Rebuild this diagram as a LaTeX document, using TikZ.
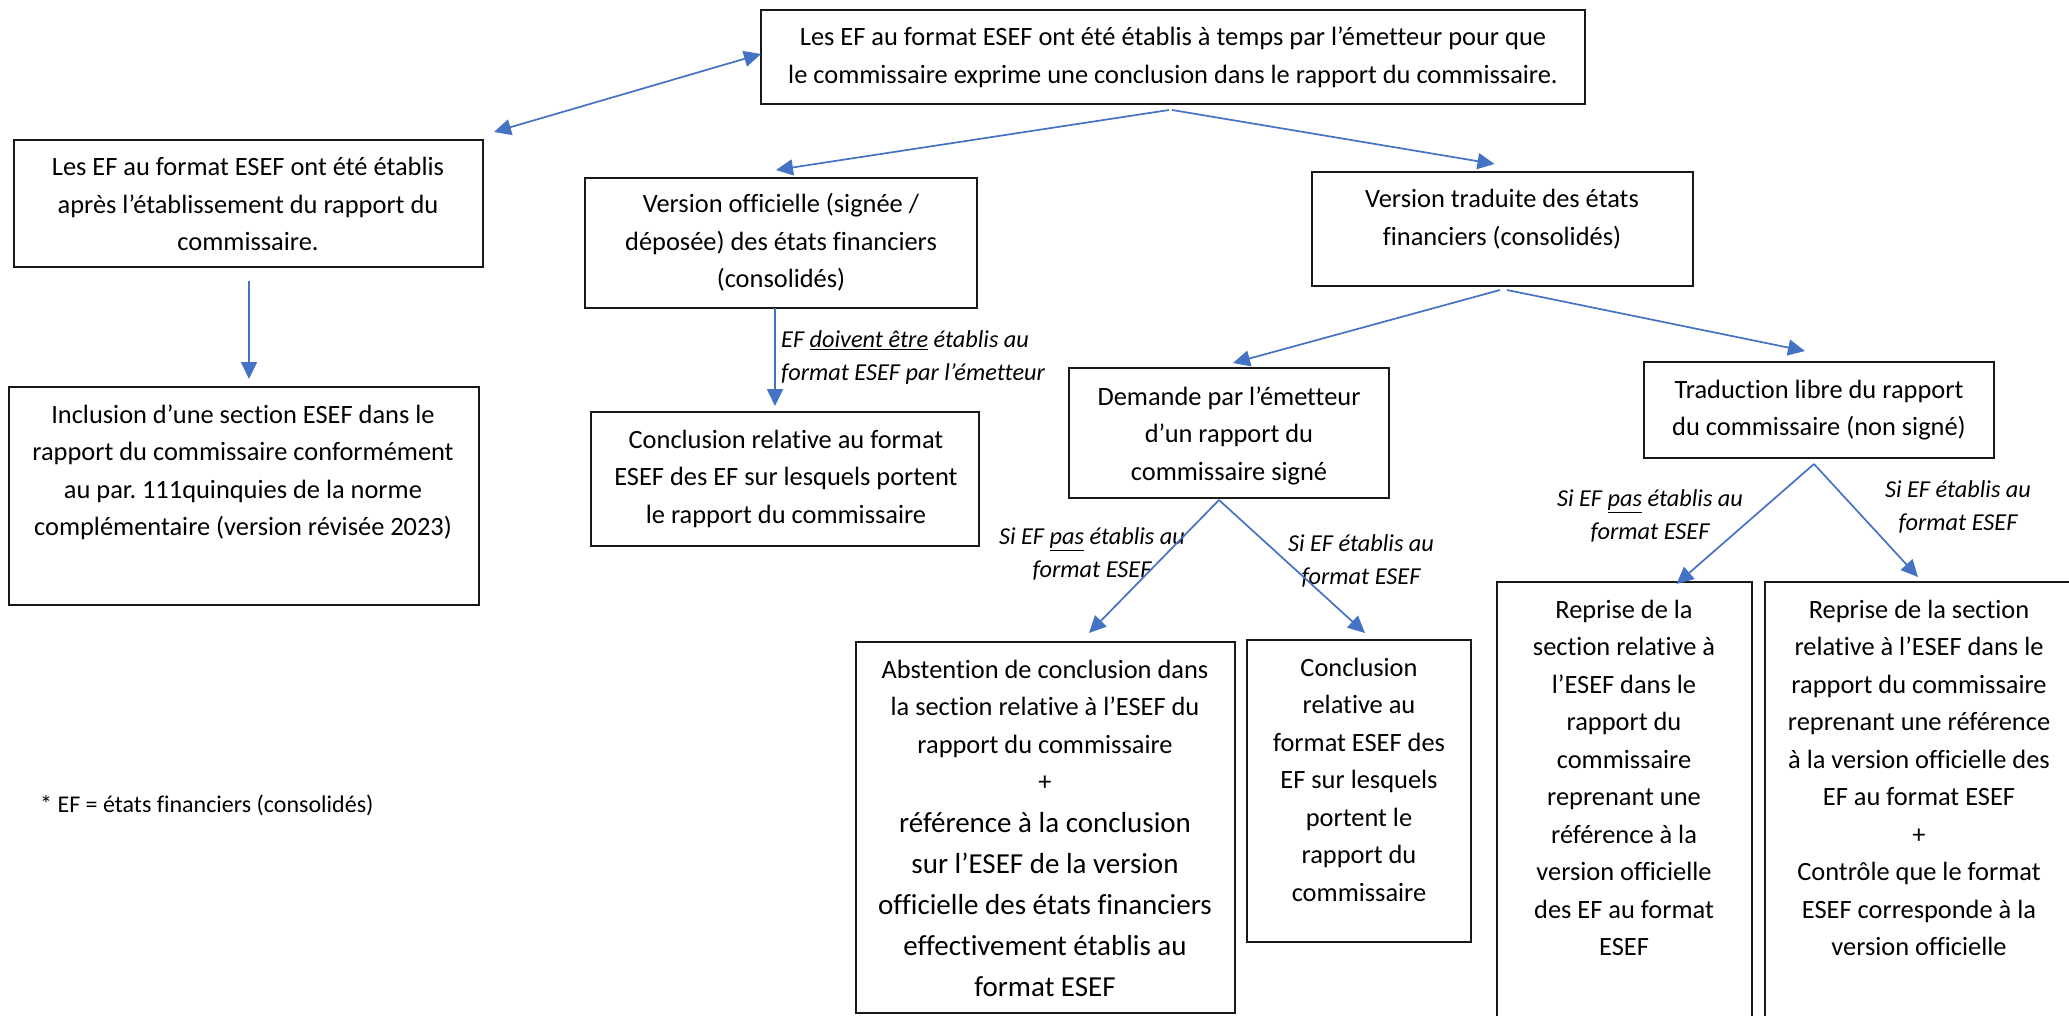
\documentclass[tikz,border=0pt]{standalone}
\usepackage{fontspec}
\setmainfont{Carlito}[Ligatures=CommonOff]
\frenchspacing
\usetikzlibrary{arrows.meta,calc}
\definecolor{arr}{RGB}{68,114,196}
\definecolor{bord}{RGB}{25,25,25}
\begin{document}
\begin{tikzpicture}[x=1pt,y=-1pt,
  box/.style={draw=bord,line width=1.8pt,rectangle,inner sep=0pt,outer sep=0pt,anchor=north west},
  txt/.style={align=center,inner sep=0pt,anchor=base,font=\fontsize{26.4}{37.5}\selectfont},
  bigtxt/.style={align=center,inner sep=0pt,anchor=base,font=\fontsize{29}{41}\selectfont},
  lbl/.style={align=center,inner sep=0pt,anchor=base,font=\fontsize{24.3}{32.5}\selectfont\itshape},
  note/.style={inner sep=0pt,anchor=base west,font=\fontsize{24}{30}\selectfont},
  con/.style={draw=arr,line width=1.7pt,-{Triangle[length=17pt,width=16pt]}},
  dcon/.style={draw=arr,line width=1.7pt,{Triangle[length=17pt,width=16pt]}-{Triangle[length=17pt,width=16pt]}},
]
\useasboundingbox (0,0) rectangle (2069,1016);
\clip (0,0) rectangle (2069,1016);

% boxes
\node[box,minimum width=824pt,minimum height=94pt]  (top) at (761,10) {};
\node[box,minimum width=469pt,minimum height=127pt] (A) at (14,140) {};
\node[box,minimum width=470pt,minimum height=218pt] (B) at (9,387) {};
\node[box,minimum width=392pt,minimum height=130pt] (C) at (585,178) {};
\node[box,minimum width=388pt,minimum height=134pt] (D) at (591,412) {};
\node[box,minimum width=381pt,minimum height=114pt] (E) at (1312,172) {};
\node[box,minimum width=320pt,minimum height=130pt] (F) at (1069,368) {};
\node[box,minimum width=350pt,minimum height=96pt]  (G) at (1644,362) {};
\node[box,minimum width=379pt,minimum height=371pt] (H) at (856,642) {};
\node[box,minimum width=224pt,minimum height=302pt] (I) at (1247,640) {};
\node[box,minimum width=255pt,minimum height=460pt] (J) at (1497,582) {};
\node[box,minimum width=340pt,minimum height=460pt] (K) at (1765,582) {};

% texts (anchored at the baseline of the last line)
\node[txt] (top-t) at (1173,83.5) {Les EF au format ESEF ont été établis à temps par l’émetteur pour que\\le commissaire exprime une conclusion dans le rapport du commissaire.};
\node[txt] (A-t) at (248,251) {Les EF au format ESEF ont été établis\\après l’établissement du rapport du\\commissaire.};
\node[txt] (B-t) at (243,535.5) {Inclusion d’une section ESEF dans le\\rapport du commissaire conformément\\au par. 111quinquies de la norme\\complémentaire (version révisée 2023)};
\node[txt] (C-t) at (781,288) {Version officielle (signée /\\déposée) des états financiers\\(consolidés)};
\node[txt] (D-t) at (786,523) {Conclusion relative au format\\ESEF des EF sur lesquels portent\\le rapport du commissaire};
\node[txt] (E-t) at (1502,245.5) {Version traduite des états\\financiers (consolidés)};
\node[txt] (F-t) at (1229,480) {Demande par l’émetteur\\d’un rapport du\\commissaire signé};
\node[txt] (G-t) at (1819,435.5) {Traduction libre du rapport\\du commissaire (non signé)};
\node[txt] (H-t1) at (1045,790.5) {Abstention de conclusion dans\\la section relative à l’ESEF du\\rapport du commissaire\\+};
\node[bigtxt] (H-t2) at (1045,996) {référence à la conclusion\\sur l’ESEF de la version\\officielle des états financiers\\effectivement établis au\\format ESEF};
\node[txt] (I-t) at (1359,901) {Conclusion\\relative au\\format ESEF des\\EF sur lesquels\\portent le\\rapport du\\commissaire};
\node[txt] (J-t) at (1624,955.5) {Reprise de la\\section relative à\\l’ESEF dans le\\rapport du\\commissaire\\reprenant une\\référence à la\\version officielle\\des EF au format\\ESEF};
\node[txt] (K-t) at (1919,955.5) {Reprise de la section\\relative à l’ESEF dans le\\rapport du commissaire\\reprenant une référence\\à la version officielle des\\EF au format ESEF\\+\\Contrôle que le format\\ESEF corresponde à la\\version officielle};

% labels
\node[lbl,align=left,anchor=base west] (LCD) at (781,380) {EF \underline{doivent être} établis au\\format ESEF par l’émetteur};
\node[lbl] (LF1) at (1092,577) {Si EF \underline{pas} établis au\\format ESEF};
\node[lbl] (LF2) at (1361,584) {Si EF établis au\\format ESEF};
\node[lbl] (LG1) at (1650,539) {Si EF \underline{pas} établis au\\format ESEF};
\node[lbl] (LG2) at (1958,530) {Si EF établis au\\format ESEF};
\node[note] (fn) at (40,812) {* EF = états financiers (consolidés)};

% connectors
\draw[dcon] ($(top.west)+(0,-3)$) -- ($(A.north east)+(11,-8)$);
\draw[con] ($(top.south)+(-4,6)$) -- ($(C.north)+(-5,-8)$);
\draw[con] ($(top.south)+(-1,6)$) -- ($(E.north)+(-8,-8)$);
\draw[con] ($(A.south)+(0.5,14)$) -- ($(B.north)+(5,-8)$);
\draw[con] ($(C.south)+(-6,0)$) -- ($(D.north)+(-10,-6)$);
\draw[con] ($(E.south)+(-2.5,4)$) -- ($(F.north)+(4,-5)$);
\draw[con] ($(E.south)+(4.5,4)$) -- ($(G.north)+(-14,-11)$);
\draw[con] ($(F.south)+(-10,2)$) -- ($(H.north)+(43.5,-9)$);
\draw[con] ($(F.south)+(-10,2)$) -- ($(I.north)+(6,-7)$);
\draw[con] ($(G.south)+(-5,6)$) -- ($(J.north)+(52,2)$);
\draw[con] ($(G.south)+(-5,6)$) -- ($(K.north)+(-17,-5)$);
\end{tikzpicture}
\end{document}
